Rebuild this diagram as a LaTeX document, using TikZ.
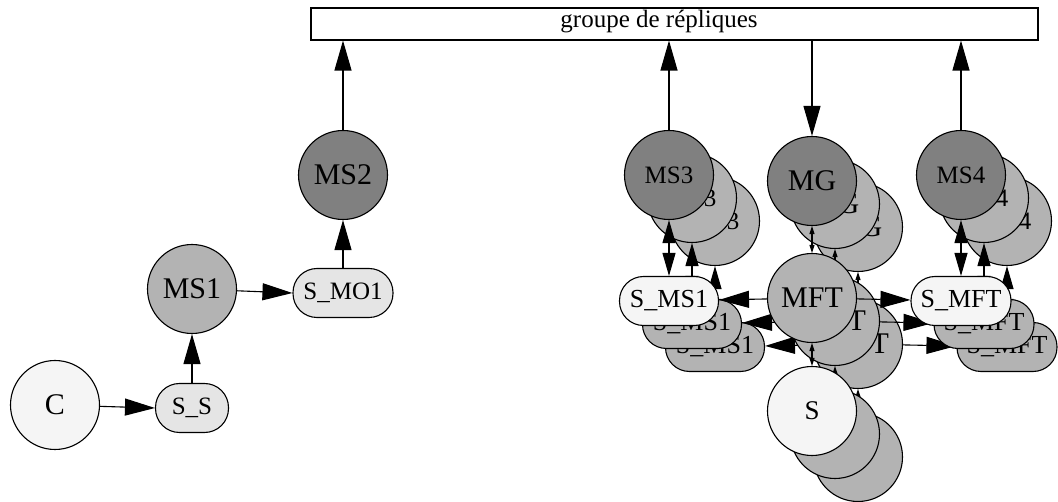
\documentclass[tikz,border=0pt]{standalone}
\usepackage{fontspec}
\setmainfont{Liberation Serif}
\usetikzlibrary{arrows.meta}

\definecolor{gdark}{HTML}{808080}
\definecolor{gmid}{HTML}{B3B3B3}
\definecolor{glight}{HTML}{E5E5E5}
\definecolor{gpale}{HTML}{F5F5F5}

\begin{document}
\begin{tikzpicture}[x=1pt,y=-1pt,line width=1.1pt,
    >={Triangle[length=30pt,width=17pt]},
    proc/.style={draw,circle,minimum size=89pt,inner sep=0pt,fill=gmid,font=\fontsize{30}{30}\selectfont},
    smallproc/.style={proc,font=\fontsize{25}{25}\selectfont},
    sock/.style={draw,rounded corners=24pt,minimum width=99pt,minimum height=49pt,inner sep=0pt,fill=gmid,font=\fontsize{26}{26}\selectfont},
    pairarr/.style={<->,>={Triangle[length=23pt,width=13pt]}},
    shortarr/.style={<->,>={Triangle[length=8pt,width=5pt]}},
    groupbox/.style={draw,minimum width=727pt,minimum height=32pt,inner sep=0pt}]

  \useasboundingbox (0,0) rectangle (1058,502);

  \node [groupbox] (group) at (674.5,24) {};
  \node [font=\fontsize{25}{25}\selectfont] (group_lab) at (659,22) {groupe de répliques};

  % client side
  \node [proc,fill=gpale] (C) at (55,405) {C};
  \node [sock,fill=glight,minimum width=73pt,font=\fontsize{25}{25}\selectfont] (S_S) at (192,408) {S\_S};
  \node [proc] (MS1) at (192,289) {MS1};
  \node [sock,fill=glight,minimum width=100pt,font=\fontsize{25}{25}\selectfont] (S_MO1) at (343,293) {S\_MO1};
  \node [proc,fill=gdark] (MS2) at (343,175) {MS2};

  \path [draw,->]
    (C)     edge (S_S.west)
    (S_S)   edge (MS1)
    (MS1)   edge (S_MO1.west)
    (S_MO1) edge (MS2);
  \draw [->] (MS2) -- (MS2 |- group.south);

  % replicas: copies 2 and 1 behind, copy 0 in front
  \foreach \k in {2,1,0} {
    \ifnum\k=0 \def\hi{gdark}\def\lo{gpale}\else \def\hi{gmid}\def\lo{gmid}\fi
    \begin{scope}[shift={(23*\k,23*\k)}]
      \node [smallproc,fill=\hi] (MS3_\k) at (669,175) {MS3};
      \node [proc,fill=\hi] (MG_\k) at (812,181) {MG};
      \node [smallproc,fill=\hi] (MS4_\k) at (961,175) {MS4};
      \node [proc] (MFT_\k) at (812,298) {MFT};
      \node [proc,fill=\lo,font=\fontsize{27}{27}\selectfont] (S_\k) at (812,411) {S};
      \node [sock,fill=\lo] (S_MS1_\k) at (669,301) {S\_MS1};
      \node [sock,fill=\lo,minimum width=100pt] (S_MFT_\k) at (961,301) {S\_MFT};

      \draw [shortarr] (MG_\k) -- (MFT_\k);
      \draw [shortarr] (MFT_\k) -- (S_\k);
      \draw [pairarr] (MS3_\k) -- (S_MS1_\k);
      \draw [pairarr] (MS4_\k) -- (S_MFT_\k);
      \draw [->] (MFT_\k) -- (S_MS1_\k);
      \draw [->] (MFT_\k) -- (S_MFT_\k);
    \end{scope}
  }

  \draw [->] (MS3_0) -- (MS3_0 |- group.south);
  \draw [->] (MG_0 |- group.south) -- (MG_0);
  \draw [->] (MS4_0) -- (MS4_0 |- group.south);

\end{tikzpicture}
\end{document}
